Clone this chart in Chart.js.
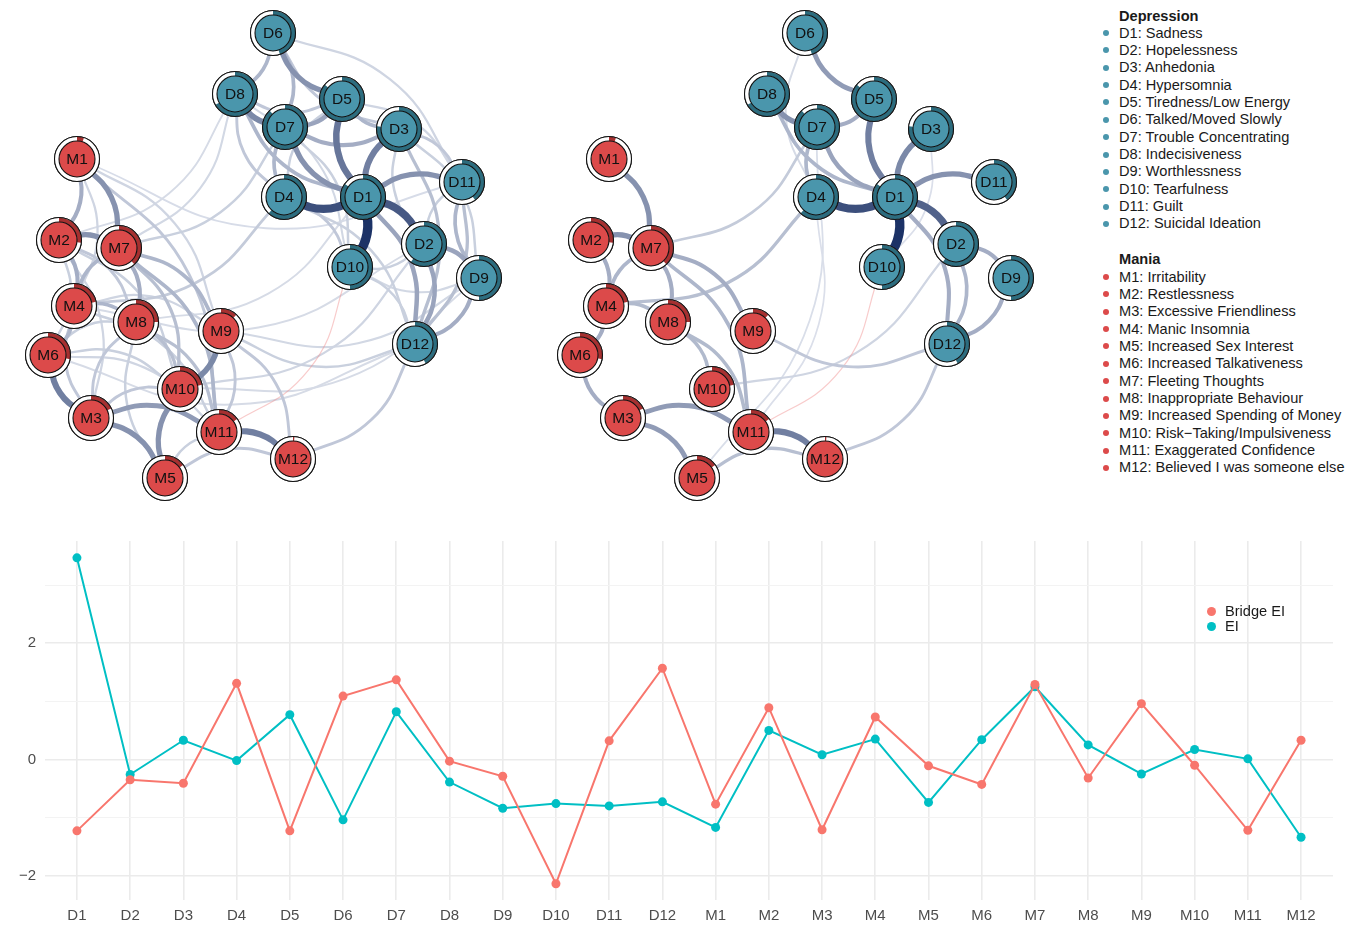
<!DOCTYPE html>
<html><head><meta charset="utf-8">
<script src="https://cdn.jsdelivr.net/npm/chart.js@4"></script>
<style>
body{margin:0;background:#fff;width:1359px;height:928px;overflow:hidden;position:relative;font-family:"Liberation Sans",Arial,sans-serif;}
canvas{position:absolute;}
.lg{position:absolute;font-size:14.6px;line-height:17px;color:#1a1a1a;white-space:nowrap;}
.lg b{font-weight:bold;}
.dot{position:absolute;border-radius:50%;}
</style></head><body>
<canvas id="netL" width="532" height="510" style="left:0;top:0"></canvas>
<canvas id="netR" width="532" height="510" style="left:532px;top:0"></canvas>
<canvas id="line" width="1359" height="398" style="left:0;top:530px"></canvas>
<div id="legendNet"></div>
<div id="legendLine"></div>
<script>
// ---------- data ----------
const nodeNames = ["D1","D2","D3","D4","D5","D6","D7","D8","D9","D10","D11","D12",
                   "M1","M2","M3","M4","M5","M6","M7","M8","M9","M10","M11","M12"];
const nodeX = [363,424,399,284,342,273,285,235,479,350,462,415, 77,59,91,74,165,48,119,136,221,180,219,293];
const nodeY = [197,244,129,197,99,33,127,94,278,267,182,344, 159,240,418,306,478,355,248,322,331,389,432,459];
const predictability = [0.85,0.6,0.77,0.62,0.86,0.45,0.88,0.67,0.5,0.5,0.4,0.42,
                        0.05,0.27,0.18,0.22,0.15,0.28,0.38,0.25,0.12,0.22,0.15,0.01];
const depressionLabels = ["D1: Sadness","D2: Hopelessness","D3: Anhedonia","D4: Hypersomnia","D5: Tiredness/Low Energy","D6: Talked/Moved Slowly","D7: Trouble Concentrating","D8: Indecisiveness","D9: Worthlessness","D10: Tearfulness","D11: Guilt","D12: Suicidal Ideation"];
const maniaLabels = ["M1: Irritability","M2: Restlessness","M3: Excessive Friendliness","M4: Manic Insomnia","M5: Increased Sex Interest","M6: Increased Talkativeness","M7: Fleeting Thoughts","M8: Inappropriate Behaviour","M9: Increased Spending of Money","M10: Risk\u2212Taking/Impulsiveness","M11: Exaggerated Confidence","M12: Believed I was someone else"];

// edges: [from, to, weight] (negative weight = negative edge)
const fullEdges = [
 ["D1","D10",1.0],["D1","D4",0.85],["D1","D2",0.8],["D1","D5",0.65],["D1","D3",0.6],["D1","D11",0.5],["D1","D7",0.5],
 ["D7","D8",0.55],["D5","D6",0.5],["D5","D7",0.4],["D3","D7",0.35],["D3","D5",0.3],["D2","D9",0.4],["D9","D12",0.35],
 ["D2","D12",0.4],["D1","D12",0.4],["D9","D11",0.3],["D11","D12",0.25],["D6","D8",0.3],["D6","D7",0.3],["D4","D7",0.3],
 ["D1","D8",0.3],["D4","D8",0.2],["D3","D12",0.25],["D3","D11",0.2],["D3","D9",0.15],["D2","D11",0.15],["D4","D10",0.2],
 ["D5","D8",0.2],["D3","D6",0.2],["D6","D11",0.12],["D4","D12",0.15],["D10","D12",0.15],["D2","D10",0.15],["D4","D5",0.15],
 ["D2","D3",0.15],["D7","D10",0.15],["D5","D11",0.12],["D8","D10",0.1],["D9","D10",0.1],
 ["M3","M6",0.6],["M11","M12",0.6],["M9","M10",0.55],["M1","M7",0.5],["M2","M7",0.5],["M3","M5",0.5],["M5","M10",0.5],
 ["M3","M11",0.45],["M1","M2",0.35],["M2","M4",0.35],["M4","M7",0.3],["M7","M8",0.35],["M4","M6",0.3],["M4","M8",0.3],
 ["M7","M9",0.3],["M7","M11",0.3],["M7","M10",0.25],["M8","M10",0.25],["M8","M11",0.25],["M2","M8",0.2],["M1","M11",0.2],
 ["M9","M12",0.2],["M9","M11",0.2],["M5","M12",0.2],["M5","M11",0.15],["M3","M8",0.2],["M3","M10",0.2],["M6","M8",0.15],
 ["M6","M10",0.15],["M2","M6",0.15],["M3","M4",0.2],["M4","M11",0.15],["M2","M10",0.15],["M1","M9",0.12],["M6","M11",0.12],
 ["M4","M9",0.12],["M2","M3",0.12],["M1","M4",0.12],["M5","M8",0.15],
 ["D12","M12",0.2],["D12","M9",0.15],["D7","M7",0.15],["D4","M4",0.18],["D2","M10",0.12],["D8","M7",0.1],["D8","M2",0.08],
 ["D11","M1",0.07],["D9","M9",0.1],["D1","M8",0.08],["D12","M6",0.08],["D2","M4",0.08],["D9","M10",0.08],["D10","M11",-0.15]
];
const sparseEdges = [
 ["D1","D10",1.0],["D1","D4",0.85],["D1","D2",0.75],["D1","D5",0.6],["D1","D3",0.55],["D1","D11",0.5],["D1","D7",0.4],
 ["D7","D8",0.5],["D5","D6",0.45],["D5","D7",0.35],["D4","D6",0.08],["D1","D8",0.3],["D4","D7",0.3],["D2","D9",0.35],
 ["D9","D12",0.35],["D2","D12",0.3],["D1","D12",0.35],["D3","D10",0.05],
 ["M1","M7",0.5],["M2","M7",0.5],["M2","M4",0.35],["M4","M7",0.3],["M7","M8",0.35],["M7","M9",0.35],["M7","M11",0.3],
 ["M4","M8",0.28],["M4","M6",0.35],["M3","M6",0.35],["M3","M11",0.45],["M3","M5",0.45],["M8","M10",0.28],["M8","M11",0.28],
 ["M11","M12",0.6],["M5","M12",0.25],
 ["D7","M7",0.18],["D4","M4",0.25],["D12","M9",0.2],["D12","M12",0.2],["D2","M10",0.12],["D7","M5",0.06],["D4","M11",0.05],
 ["D10","M11",-0.15]
];

const categories = ["D1","D2","D3","D4","D5","D6","D7","D8","D9","D10","D11","D12",
                    "M1","M2","M3","M4","M5","M6","M7","M8","M9","M10","M11","M12"];
const bridgeEI = [-1.23,-0.35,-0.41,1.31,-1.23,1.09,1.37,-0.03,-0.29,-2.14,0.32,1.57,
                  -0.77,0.89,-1.21,0.73,-0.11,-0.43,1.29,-0.32,0.96,-0.10,-1.22,0.33];
const EI = [3.47,-0.26,0.33,-0.02,0.77,-1.04,0.82,-0.39,-0.84,-0.76,-0.80,-0.73,
            -1.17,0.50,0.08,0.35,-0.74,0.34,1.25,0.25,-0.25,0.17,0.01,-1.34];
const yTicks = [-2,-1,0,1,2,3];

// ---------- helpers ----------
const FONT = '"Liberation Sans", Arial, sans-serif';
const TEAL = 'rgb(74,150,172)', TEAL_D = 'rgb(44,108,126)';
const RED = 'rgb(220,74,74)', RED_D = 'rgb(166,48,48)';
function edgeColor(w){
  if (w < 0) return 'rgba(240,140,140,0.45)';
  const a=[226,230,239], b=[28,50,102];
  const t=Math.pow(w,1.1);
  return `rgb(${Math.round(a[0]+(b[0]-a[0])*t)},${Math.round(a[1]+(b[1]-a[1])*t)},${Math.round(a[2]+(b[2]-a[2])*t)})`;
}
function buildDatasets(edges){
  const ds = [];
  ds.push({
    type:'scatter', order:0,
    data: nodeNames.map((n,i)=>({x:nodeX[i], y:nodeY[i]})),
    pointRadius:22.5, pointHoverRadius:22.5, pointBackgroundColor:'#ffffff',
    pointBorderColor:'#111', pointBorderWidth:1, clip:false
  });
  const sorted = edges.slice().sort((p,q)=>Math.abs(p[2])-Math.abs(q[2]));
  sorted.forEach((e,k)=>{
    let i=nodeNames.indexOf(e[0]), j=nodeNames.indexOf(e[1]);
    if (i>j){const t=i;i=j;j=t;}
    const x1=nodeX[i], y1=nodeY[i], x2=nodeX[j], y2=nodeY[j];
    const dx=x2-x1, dy=y2-y1, L=Math.hypot(dx,dy);
    const sag=0.15*L;
    const mx=(x1+x2)/2 + sag*dy/L, my=(y1+y2)/2 - sag*dx/L;
    const w=Math.abs(e[2]);
    ds.push({
      type:'line', order: 1000-k, showLine:true,
      data:[{x:x1,y:y1},{x:mx,y:my},{x:x2,y:y2}],
      borderColor: edgeColor(e[2]), borderWidth: e[2]<0 ? 1.2 : 1.3+8*w,
      pointRadius:0, pointHoverRadius:0, tension:0.45, fill:false, clip:false,
      borderCapStyle:'butt'
    });
  });
  return ds;
}
const nodePlugin = {
  id:'nodeRings',
  afterDatasetsDraw(chart){
    const ctx=chart.ctx, meta=chart.getDatasetMeta(0);
    meta.data.forEach((el,i)=>{
      const x=el.x, y=el.y, isD=nodeNames[i][0]==='D';
      const p=predictability[i], a0=-Math.PI/2, a1=a0+2*Math.PI*p;
      ctx.save();
      ctx.beginPath(); ctx.arc(x,y,22.5,0,2*Math.PI); ctx.fillStyle='#fff'; ctx.fill();
      ctx.beginPath(); ctx.arc(x,y,22.3,a0,a1); ctx.arc(x,y,18,a1,a0,true); ctx.closePath();
      ctx.fillStyle=isD?TEAL_D:RED_D; ctx.fill();
      ctx.beginPath(); ctx.arc(x,y,22.5,0,2*Math.PI); ctx.lineWidth=1.1; ctx.strokeStyle='#111'; ctx.stroke();
      ctx.beginPath(); ctx.arc(x,y,18,0,2*Math.PI); ctx.fillStyle=isD?TEAL:RED; ctx.fill();
      ctx.lineWidth=1.1; ctx.strokeStyle='#111'; ctx.stroke();
      ctx.fillStyle='#111'; ctx.font='15.5px '+FONT; ctx.textAlign='center'; ctx.textBaseline='middle';
      ctx.fillText(nodeNames[i], x, y+0.5);
      ctx.restore();
    });
  }
};
function netChart(id, edges){
  new Chart(document.getElementById(id), {
    type:'scatter',
    data:{datasets: buildDatasets(edges)},
    options:{
      responsive:false, animation:false, events:[],
      layout:{padding:0, autoPadding:false},
      plugins:{legend:{display:false}, tooltip:{enabled:false}},
      scales:{
        x:{type:'linear', min:0, max:532, display:false},
        y:{type:'linear', min:0, max:510, reverse:true, display:false}
      }
    },
    plugins:[nodePlugin]
  });
}
netChart('netL', fullEdges);
netChart('netR', sparseEdges);

// ---------- network legend (HTML text) ----------
(function(){
  const box=document.getElementById('legendNet');
  let html='';
  const step=17.36;
  html += `<div class="lg" style="left:1119px;top:${16-8.5}px"><b>Depression</b></div>`;
  depressionLabels.forEach((t,k)=>{
    const yc=33+k*step;
    html += `<div class="dot" style="left:1103px;top:${yc-3}px;width:6px;height:6px;background:${TEAL}"></div>`;
    html += `<div class="lg" style="left:1119px;top:${yc-8.5}px">${t}</div>`;
  });
  html += `<div class="lg" style="left:1119px;top:${259-8.5}px"><b>Mania</b></div>`;
  maniaLabels.forEach((t,k)=>{
    const yc=277+k*step;
    html += `<div class="dot" style="left:1103px;top:${yc-3}px;width:6px;height:6px;background:${RED}"></div>`;
    html += `<div class="lg" style="left:1119px;top:${yc-8.5}px">${t}</div>`;
  });
  box.innerHTML=html;
  const lb=document.getElementById('legendLine');
  lb.innerHTML =
   `<div class="dot" style="left:1206.5px;top:606.5px;width:9px;height:9px;background:#F8766D"></div>`+
   `<div class="lg" style="left:1225px;top:602.5px">Bridge EI</div>`+
   `<div class="dot" style="left:1206.5px;top:621.5px;width:9px;height:9px;background:#00BFC4"></div>`+
   `<div class="lg" style="left:1225px;top:617.5px">EI</div>`;
})();

// ---------- line chart ----------
new Chart(document.getElementById('line'), {
  type:'line',
  data:{datasets:[
    {label:'Bridge EI', data: bridgeEI.map((v,i)=>({x:i,y:v})), borderColor:'#F8766D', backgroundColor:'#F8766D',
     borderWidth:2, pointRadius:4.5, pointBorderWidth:0, pointBackgroundColor:'#F8766D', tension:0},
    {label:'EI', data: EI.map((v,i)=>({x:i,y:v})), borderColor:'#00BFC4', backgroundColor:'#00BFC4',
     borderWidth:2, pointRadius:4.5, pointBorderWidth:0, pointBackgroundColor:'#00BFC4', tension:0}
  ]},
  options:{
    responsive:false, animation:false, events:[],
    layout:{padding:{left:0,right:26,top:11,bottom:0}, autoPadding:false},
    plugins:{legend:{display:false}, tooltip:{enabled:false}},
    scales:{
      x:{type:'linear', min:-0.6, max:categories.length-0.4,
         afterBuildTicks(s){ s.ticks = categories.map((c,i)=>({value:i})); },
         ticks:{autoSkip:false, maxRotation:0, color:'#4D4D4D', font:{size:15,family:FONT}, padding:7,
                callback:(v)=>categories[v]},
         grid:{color:'#EBEBEB', lineWidth:1.6, drawTicks:false}, border:{display:false},
         afterFit(s){ s.height=28; s.paddingLeft=0; s.paddingRight=0; }},
      y:{type:'linear', min:-2.42, max:3.76,
         afterBuildTicks(s){ s.ticks = yTicks.map(v=>({value:v})); },
         ticks:{color:'#4D4D4D', font:{size:15,family:FONT}, padding:9,
                callback:(v)=> v%2===0 ? (v<0 ? '\u2212'+Math.abs(v) : String(v)) : ''},
         grid:{color:(c)=> (c.tick && c.tick.value%2===0) ? '#EBEBEB' : '#F3F3F3',
               lineWidth:(c)=> (c.tick && c.tick.value%2===0) ? 1.6 : 1, drawTicks:false},
         border:{display:false},
         afterFit(s){ s.width=45; s.paddingTop=0; s.paddingBottom=0; }}
    }
  }
});
</script>
</body></html>
